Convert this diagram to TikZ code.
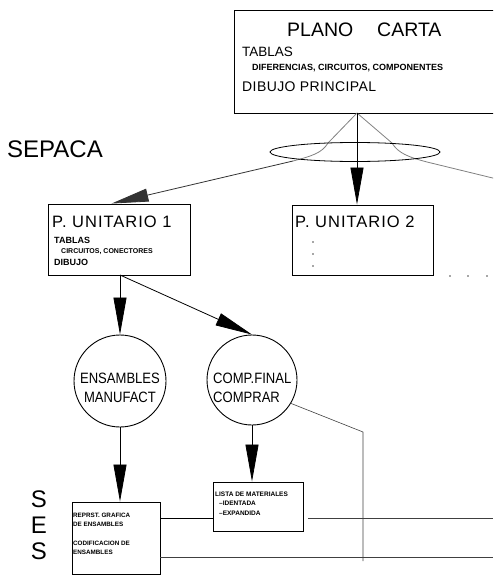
\documentclass[tikz,border=0pt]{standalone}
\usepackage{fontspec}
\setmainfont{Liberation Sans}
\usetikzlibrary{arrows.meta,shapes.geometric,calc}
\newcommand\fsz[1]{\fontsize{#1}{#1}\selectfont}
\newcommand\narrowtxt[1]{\scalebox{0.87}[1]{#1}}

\begin{document}
\begin{tikzpicture}[x=1pt,y=-1pt,
  box/.style={draw, line width=0.9pt, inner sep=0pt},
  lbl/.style={anchor=base west, inner sep=0pt},
  clbl/.style={anchor=base, inner sep=0pt},
  conn/.style={line width=0.8pt},
  arr/.style={conn, -{Triangle[length=37pt,width=13pt]}},
  faint/.style={line width=0.8pt, black!50},
  wire/.style={line width=0.6pt, black!75},
  dot/.style={circle, fill=black!70, inner sep=0pt, minimum size=1.8pt}]
\clip (0,0) rectangle (493,575);

% ---------- main drawing ----------
\node[box, minimum width=280pt, minimum height=103pt] (plano) at (374,61.5) {};
\node[lbl, font=\fsz{19.5}] (tPlano) at (287,37) {PLANO};
\node[lbl, font=\fsz{19.5}] (tCarta) at (377,37) {CARTA};
\node[lbl, font=\fsz{13.5}] (tTablas) at (242,57) {TABLAS};
\node[lbl, font=\fsz{9}\bfseries] (tDif) at (252,71) {DIFERENCIAS, CIRCUITOS, COMPONENTES};
\node[lbl, font=\fsz{14}\addfontfeature{LetterSpace=3}] (tDibujo) at (242,92) {DIBUJO PRINCIPAL};

\node[lbl, font=\fsz{24}] (sepaca) at (7,157) {SEPACA};

% ---------- split into unit drawings ----------
\coordinate (apex) at (357,113);
\coordinate (ellL) at (293,161);
\coordinate (ellR) at (427,162);
\coordinate (farR) at (505,181);
\draw[faint] (apex) -- (328,143) .. controls (322,153) and (312,156) .. (ellL);
\draw[faint] (apex) -- (392,143) .. controls (398,153) and (408,157) .. (ellR) -- (farR);
\node[draw, ellipse, line width=0.8pt, minimum width=170pt, minimum height=19pt, inner sep=0pt] (ell) at (355,152) {};

% ---------- unit drawings ----------
\node[box, minimum width=142pt, minimum height=71pt] (pu1) at (119,239.5) {};
\node[lbl, font=\fsz{16.5}\addfontfeature{LetterSpace=6}] (tPu1) at (52,227) {P.\ UNITARIO 1};
\node[lbl, font=\fsz{9}\bfseries] (tPu1Tab) at (54,243) {TABLAS};
\node[lbl, font=\fsz{7}\bfseries] (tPu1Cir) at (61,253) {CIRCUITOS, CONECTORES};
\node[lbl, font=\fsz{9}\bfseries] (tPu1Dib) at (54,265) {DIBUJO};

\node[box, minimum width=141pt, minimum height=70pt] (pu2) at (362.5,240) {};
\node[lbl, font=\fsz{16.5}\addfontfeature{LetterSpace=6}] (tPu2) at (295,227) {P.\ UNITARIO 2};
\node[dot] (v1) at (313,242) {};
\node[dot] (v2) at (313,254) {};
\node[dot] (v3) at (313,266) {};
\node[dot] (h1) at (450,276) {};
\node[dot] (h2) at (468,276) {};
\node[dot] (h3) at (487,276) {};

\draw[conn, black!80, -{Triangle[length=37pt,width=13pt]}] (ellL) -- ($(pu1.north west)+(64,0)$);
\draw[arr] (apex) -- (apex |- pu2.north);

% ---------- assemblies / components ----------
\node[draw, circle, line width=0.9pt, minimum size=92pt, inner sep=0pt] (ens) at (120,381) {};
\node[clbl, font=\fsz{15}] (tEns1) at (120,383) {\narrowtxt{ENSAMBLES}};
\node[clbl, font=\fsz{15}] (tEns2) at (120,402) {\narrowtxt{MANUFACT}};

\node[draw, circle, line width=0.9pt, minimum size=90pt, inner sep=0pt] (comp) at (252,380) {};
\node[lbl, font=\fsz{15}] (tComp1) at (213,383) {\narrowtxt{COMP.FINAL}};
\node[lbl, font=\fsz{15}] (tComp2) at (213,402) {\narrowtxt{COMPRAR}};

\coordinate (pu1out) at (120,275);
\draw[arr] (pu1out) -- (ens.north);
\draw[arr] (pu1out) -- (comp.north);

% ---------- documents ----------
\node[box, minimum width=88pt, minimum height=72pt] (sbox) at (116,538) {};
\node[lbl, font=\fsz{6.3}\bfseries] (tRep1) at (73,517) {REPRST.\ GRAFICA};
\node[lbl, font=\fsz{6.3}\bfseries] (tRep2) at (73,526) {DE ENSAMBLES};
\node[lbl, font=\fsz{6.3}\bfseries] (tCod1) at (73,545) {CODIFICACION DE};
\node[lbl, font=\fsz{6.3}\bfseries] (tCod2) at (73,554) {ENSAMBLES};

\node[box, minimum width=90pt, minimum height=49pt] (lista) at (258,506.5) {};
\node[lbl, font=\fsz{6.5}\bfseries] (tLis1) at (215,496) {LISTA DE MATERIALES};
\node[lbl, font=\fsz{6.5}\bfseries] (tLis2) at (219,505.5) {--IDENTADA};
\node[lbl, font=\fsz{6.5}\bfseries] (tLis3) at (219,515.5) {--EXPANDIDA};

\draw[arr] (ens.south) -- (ens.south |- sbox.north);
\draw[arr] (comp.south) -- (comp.south |- lista.north);

% ---------- record lines ----------
\coordinate (yU) at (0,518);
\coordinate (yL) at (0,557);
\coordinate (endU) at (493,518);
\coordinate (endL) at (493,557);
\coordinate (bend) at (363,432);
\coordinate (drop) at (363,561);
\draw[conn] (sbox.east |- yU) -- (lista.west |- yU);
\draw[wire] ($(lista.east |- yU)+(5,0)$) -- (endU);
\draw[wire] (sbox.east |- yL) -- (endL);
\draw[wire] (comp.-31) -- (bend) -- (drop);

\node[clbl, font=\fsz{24}] (sS1) at (39,507) {S};
\node[clbl, font=\fsz{24}] (sE) at (39,533) {E};
\node[clbl, font=\fsz{24}] (sS2) at (39,559) {S};
\end{tikzpicture}
\end{document}
